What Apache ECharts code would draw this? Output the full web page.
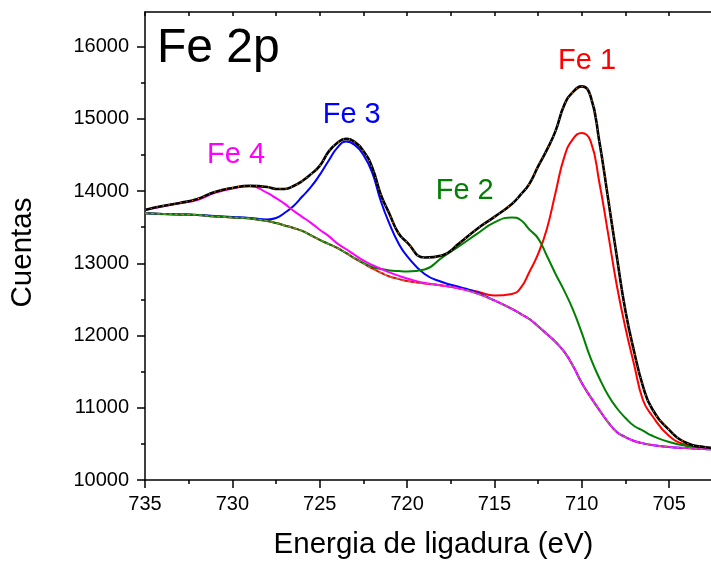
<!DOCTYPE html>
<html><head><meta charset="utf-8">
<script src="https://cdn.jsdelivr.net/npm/echarts@6/dist/echarts.min.js"></script>
<style>html,body{margin:0;padding:0;background:#fff}#c{width:711px;height:563px}</style>
</head><body><div id="c"></div>
<script>
// Binding energy (eV)
const energy = [735,734,733,732,731,730,729,728,727.5,727,726.5,726,725.5,725,724.5,724,723.5,723,722.5,722,721.5,721,720.5,720,719,718,717,716,715,714,713.5,713,712.5,712,711.5,711,710.5,710,709.5,709,708.5,708,707.5,707,706.5,706,705,704,703,702];
// Shirley-type background
const background = [13694,13684,13677,13670,13650,13636,13622,13587,13558,13525,13490,13449,13386,13324,13269,13213,13144,13068,12999,12929,12870,12818,12785,12756,12722,12694,12652,12583,12486,12368,12300,12230,12130,12022,11911,11773,11579,11343,11150,10970,10803,10665,10595,10540,10508,10485,10457,10443,10429,10422];
// Fe 1 component
const fe1 = [13694,13684,13677,13670,13650,13636,13622,13587,13558,13525,13490,13449,13386,13324,13269,13213,13144,13068,12999,12929,12870,12818,12785,12756,12722,12694,12652,12611,12555,12576,12659,12881,13130,13476,13982,14474,14723,14805,14695,14127,13421,12700,12105,11593,11108,10900,10609,10485,10450,10440];
// Fe 2 component
const fe2 = [13694,13684,13677,13670,13650,13636,13622,13587,13558,13525,13490,13449,13386,13324,13269,13213,13144,13070,13005,12950,12922,12902,12893,12888,12915,13080,13240,13407,13566,13636,13600,13468,13346,13105,12853,12618,12355,12036,11690,11413,11177,10997,10859,10748,10684,10616,10526,10471,10443,10430];
// Fe 3 component
const fe3 = [13694,13684,13677,13670,13656,13643,13629,13608,13628,13700,13795,13925,14058,14225,14418,14598,14686,14640,14501,14260,13860,13542,13282,13100,12853,12742,12673,12597,12486,12368,12300,12230,12130,12022,11911,11773,11579,11343,11150,10970,10803,10665,10595,10540,10508,10485,10457,10443,10429,10422];
// Fe 4 component
const fe4 = [13740,13788,13836,13878,13975,14037,14072,13975,13902,13823,13728,13644,13560,13465,13380,13276,13199,13116,13040,12978,12925,12874,12830,12791,12728,12694,12652,12583,12486,12368,12300,12230,12130,12022,11911,11773,11579,11343,11150,10970,10803,10665,10595,10540,10508,10485,10457,10443,10429,10422];
// Fit envelope / measured spectrum
const envelope = [13740,13795,13836,13892,13989,14044,14072,14058,14030,14030,14070,14140,14235,14349,14543,14667,14723,14681,14557,14330,13950,13680,13420,13290,13080,13110,13280,13476,13643,13823,13950,14100,14342,14570,14834,15194,15374,15450,15317,14695,13906,13102,12340,11773,11300,10997,10693,10512,10457,10440];

const yMajorTicks = [10000,11000,12000,13000,14000,15000,16000];
const yMinorTicks = [10500,11500,12500,13500,14500,15500];

const peakLabels = [
  {text:'Fe 1', e:709.7, v:15803, color:'#ff0000'},
  {text:'Fe 3', e:723.17, v:15048, color:'#0000ff'},
  {text:'Fe 4', e:729.79, v:14501, color:'#ff00ff'},
  {text:'Fe 2', e:716.7, v:14003, color:'#008000'}
];

const FONT = '"Liberation Sans", Arial, Helvetica, sans-serif';
const pairs = arr => energy.map((e,i)=>[e,arr[i]]);
const chart = echarts.init(document.getElementById('c'), null, {renderer:'canvas'});

function line(name, arr, color, width, extra){
  return Object.assign({
    name, type:'line', data:pairs(arr), showSymbol:false, symbol:'none',
    smooth:0.5, xAxisIndex:0, yAxisIndex:0, silent:true, animation:false,
    lineStyle:{color, width}
  }, extra||{});
}
const axisLine = {show:true, onZero:false, lineStyle:{color:'#000', width:1.5}};

chart.setOption({
  animation:false,
  backgroundColor:'#fff',
  grid:{left:145, top:12, width:611.5, height:468, containLabel:false, outerBoundsMode:'none'},
  xAxis:[
    {type:'value', min:700, max:735, interval:5, inverse:true, position:'bottom',
     axisLine, axisTick:{show:true, length:8, lineStyle:{color:'#000', width:1.5}},
     minorTick:{show:true, splitNumber:2, length:4, lineStyle:{color:'#000', width:1.5}},
     axisLabel:{fontSize:20, color:'#000', fontFamily:FONT, margin:14, showMinLabel:false, formatter:v=>String(v)},
     splitLine:{show:false}, minorSplitLine:{show:false}},
    {type:'value', min:700, max:735, interval:2.5, inverse:true, position:'top',
     axisLine, axisTick:{show:true, inside:true, length:4, lineStyle:{color:'#000', width:1.5}},
     axisLabel:{show:false}, splitLine:{show:false}}
  ],
  yAxis:[
    {type:'value', min:10000, max:16480, position:'left',
     axisLine, axisTick:{show:true, length:8, customValues:yMajorTicks, lineStyle:{color:'#000', width:1.5}},
     axisLabel:{customValues:yMajorTicks, fontSize:20, color:'#000', fontFamily:FONT, margin:16, formatter:v=>String(v)},
     splitLine:{show:false}},
    {type:'value', min:10000, max:16480, position:'left',
     axisLine:{show:false}, axisTick:{show:true, length:4, customValues:yMinorTicks, lineStyle:{color:'#000', width:1.5}},
     axisLabel:{show:false}, splitLine:{show:false}}
  ],
  series:[
    line('Fe 1', fe1, '#ff0000', 2),
    line('Fe 3', fe3, '#0000ff', 2),
    line('Fe 2', fe2, '#008000', 2),
    line('Fe 4', fe4, '#ff00ff', 2),
    line('Background', background, '#9a8a5a', 1.2, {lineStyle:{color:'#9a8a5a', width:1.2, type:[3,3]}}),
    line('Envelope', envelope, '#000000', 2.6),
    line('Data', envelope, '#ff8c00', 1.2, {lineStyle:{color:'#ff8c00', width:1.2, type:[1,5]}})
  ]
});

const g = [
  {type:'text', x:157, y:49, style:{text:'Fe 2p', font:'48px '+FONT, fill:'#000', verticalAlign:'middle'}, z:100},
  {type:'text', x:433.5, y:545, style:{text:'Energia de ligadura (eV)', font:'29.5px '+FONT, fill:'#000', align:'center', verticalAlign:'middle'}, z:100},
  {type:'text', x:23, y:252.5, rotation:Math.PI/2, style:{text:'Cuentas', font:'29.5px '+FONT, fill:'#000', align:'center', verticalAlign:'middle'}, z:100}
];
peakLabels.forEach(l=>{
  const p = chart.convertToPixel({xAxisIndex:0, yAxisIndex:0}, [l.e, l.v]);
  g.push({type:'text', x:p[0], y:p[1], style:{text:l.text, font:'29px '+FONT, fill:l.color, align:'center', verticalAlign:'middle'}, z:100});
});
chart.setOption({graphic:g});
</script></body></html>
